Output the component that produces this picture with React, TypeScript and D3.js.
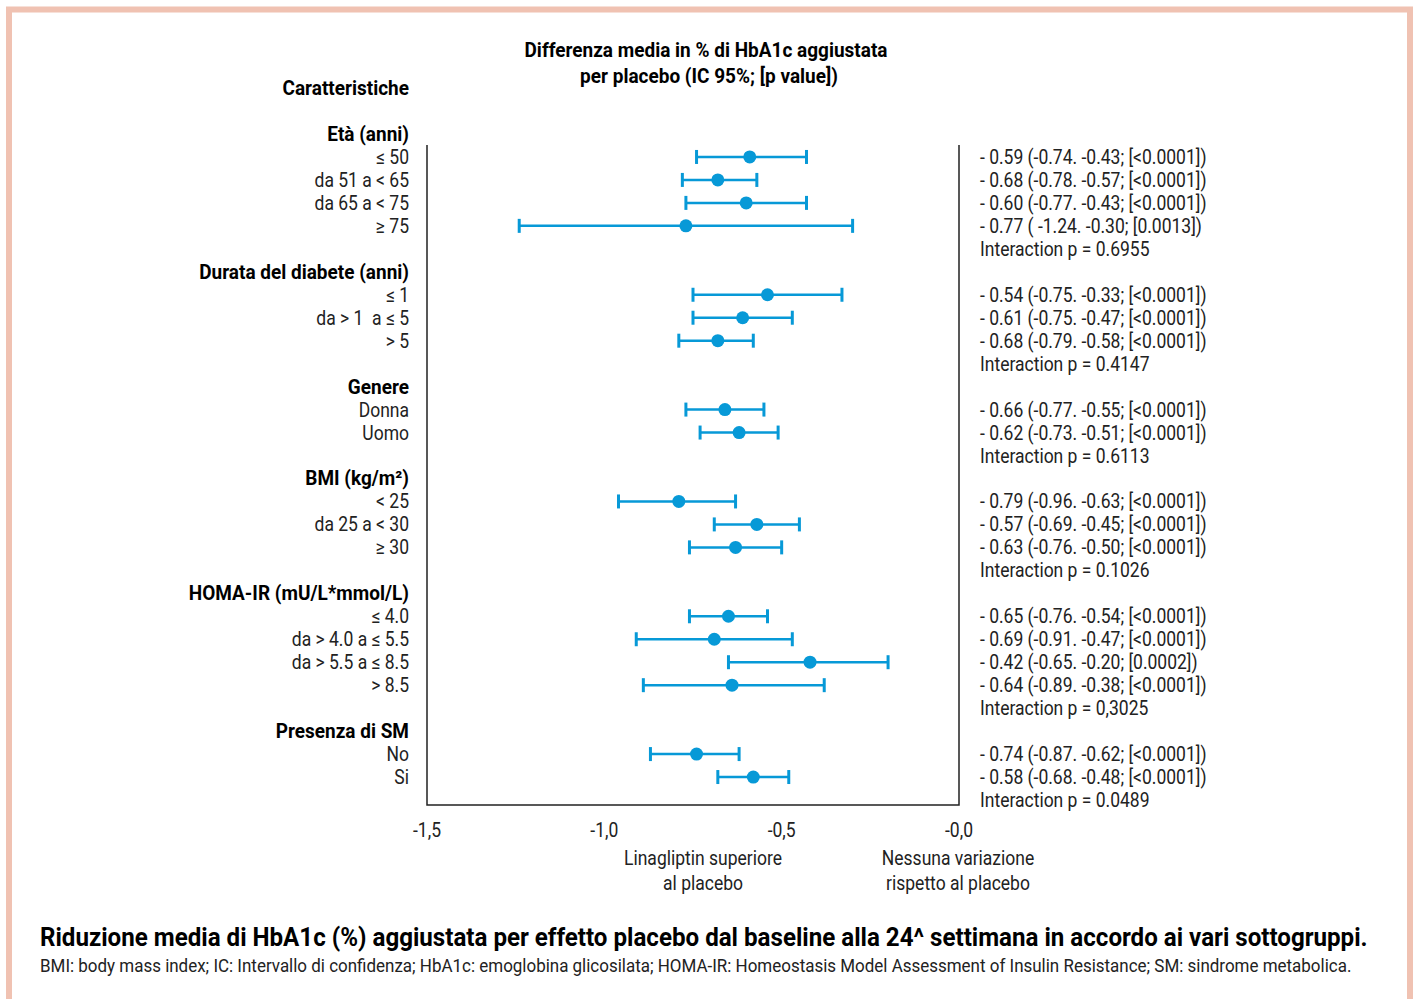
import React, { useLayoutEffect, useRef } from 'react'
import * as d3 from 'd3'

// Gruppi e sottogruppi
const groupTitles = [
  'Età (anni)',
  'Durata del diabete (anni)',
  'Genere',
  'BMI (kg/m²)',
  'HOMA-IR (mU/L*mmol/L)',
  'Presenza di SM',
]
const subgroupLabels = [
  ['≤ 50', 'da 51 a < 65', 'da 65 a < 75', '≥ 75'],
  ['≤ 1', 'da > 1  a ≤ 5', '> 5'],
  ['Donna', 'Uomo'],
  ['< 25', 'da 25 a < 30', '≥ 30'],
  ['≤ 4.0', 'da > 4.0 a ≤ 5.5', 'da > 5.5 a ≤ 8.5', '> 8.5'],
  ['No', 'Si'],
]
const means = [
  [-0.59, -0.68, -0.6, -0.77],
  [-0.54, -0.61, -0.68],
  [-0.66, -0.62],
  [-0.79, -0.57, -0.63],
  [-0.65, -0.69, -0.42, -0.64],
  [-0.74, -0.58],
]
const lowers = [
  [-0.74, -0.78, -0.77, -1.24],
  [-0.75, -0.75, -0.79],
  [-0.77, -0.73],
  [-0.96, -0.69, -0.76],
  [-0.76, -0.91, -0.65, -0.89],
  [-0.87, -0.68],
]
const uppers = [
  [-0.43, -0.57, -0.43, -0.3],
  [-0.33, -0.47, -0.58],
  [-0.55, -0.51],
  [-0.63, -0.45, -0.5],
  [-0.54, -0.47, -0.2, -0.38],
  [-0.62, -0.48],
]
const pValues = [
  ['<0.0001', '<0.0001', '<0.0001', '0.0013'],
  ['<0.0001', '<0.0001', '<0.0001'],
  ['<0.0001', '<0.0001'],
  ['<0.0001', '<0.0001', '<0.0001'],
  ['<0.0001', '<0.0001', '0.0002', '<0.0001'],
  ['<0.0001', '<0.0001'],
]
const interactionP = ['0.6955', '0.4147', '0.6113', '0.1026', '0,3025', '0.0489']
const xTicks = [-1.5, -1.0, -0.5, -0.0]
const xTickLabels = ['-1,5', '-1,0', '-0,5', '-0,0']

const caption =
  'Riduzione media di HbA1c (%) aggiustata per effetto placebo dal baseline alla 24^ settimana in accordo ai vari sottogruppi.'
const footnote =
  'BMI: body mass index; IC: Intervallo di confidenza; HbA1c: emoglobina glicosilata; HOMA-IR: Homeostasis Model Assessment of Insulin Resistance; SM: sindrome metabolica.'

const FONT = "'Liberation Sans Narrow', 'Roboto', sans-serif"
const BLUE = '#0799d7'
const INK = '#222'
// Roboto e' piu' largo del font condensato originale: stringo in orizzontale
const NARROW = 0.875
const NARROW_BOLD = 0.95

const fmt = (v: number) => {
  const s = Math.abs(v).toFixed(2)
  return v <= -1 ? ' -' + s : '-' + s
}

type Row = { kind: 'head' | 'item' | 'inter'; g: number; i: number }

const rows: Row[] = []
groupTitles.forEach((_, g) => {
  rows.push({ kind: 'head', g, i: -1 })
  subgroupLabels[g].forEach((_, i) => rows.push({ kind: 'item', g, i }))
  rows.push({ kind: 'inter', g, i: -1 })
})

const T = ({
  x,
  y,
  anchor = 'start',
  bold = false,
  size = 20,
  children,
}: {
  x: number
  y: number
  anchor?: string
  bold?: boolean
  size?: number
  children: React.ReactNode
}) => (
  <text
    transform={`translate(${x},${y}) scale(${bold ? NARROW_BOLD : NARROW},1)`}
    textAnchor={anchor}
    fontWeight={bold ? 'bold' : 'normal'}
    fontSize={size}
    fill={bold ? '#000' : INK}
    style={{ whiteSpace: 'pre' }}
  >
    {children}
  </text>
)

// testo che viene stretto fino a una larghezza data
const FitText = ({
  x,
  y,
  target,
  bold = false,
  size,
  children,
}: {
  x: number
  y: number
  target: number
  bold?: boolean
  size: number
  children: string
}) => {
  const ref = useRef<SVGTextElement>(null)
  useLayoutEffect(() => {
    const el = ref.current
    if (!el) return
    const w = el.getComputedTextLength()
    const s = w > 0 ? target / w : 1
    el.setAttribute('transform', `translate(${x},${y}) scale(${s},1)`)
  }, [x, y, target])
  return (
    <text
      ref={ref}
      transform={`translate(${x},${y}) scale(0.9,1)`}
      fontWeight={bold ? 'bold' : 'normal'}
      fontSize={size}
      fill={bold ? '#000' : INK}
    >
      {children}
    </text>
  )
}

export default function App() {
  const width = 1415
  const height = 999
  const x = d3.scaleLinear().domain([-1.5, 0]).range([427, 959])
  const y = d3
    .scalePoint<number>()
    .domain(rows.map((_, k) => k))
    .range([134, 800])
  const plotTop = 145
  const plotBottom = 805
  const labelX = 409
  const textX = 980

  return (
    <svg
      width={width}
      height={height}
      style={{ position: 'absolute', left: 0, top: 0, background: '#fff' }}
      fontFamily={FONT}
    >
      {/* cornice */}
      <rect x={0} y={0} width={width} height={height} fill="#fff" />
      <path
        d={`M9,${height} V9.5 H1410 V${height}`}
        fill="none"
        stroke="#f0c2b2"
        strokeWidth={6}
      />

      {/* titoli */}
      <T x={706} y={57} anchor="middle" bold>
        Differenza media in % di HbA1c aggiustata
      </T>
      <T x={709} y={83} anchor="middle" bold>
        per placebo (IC 95%; [p value])
      </T>
      <T x={labelX} y={95} anchor="end" bold>
        Caratteristiche
      </T>

      {/* assi */}
      <path
        d={`M${x(-1.5)},${plotTop} V${plotBottom} H${x(0)} V${plotTop}`}
        fill="none"
        stroke={INK}
        strokeWidth={1.5}
      />
      {xTicks.map((t, k) => (
        <T key={k} x={x(t)} y={837} anchor="middle">
          {xTickLabels[k]}
        </T>
      ))}
      <T x={703} y={865} anchor="middle">
        Linagliptin superiore
      </T>
      <T x={703} y={890} anchor="middle">
        al placebo
      </T>
      <T x={958} y={865} anchor="middle">
        Nessuna variazione
      </T>
      <T x={958} y={890} anchor="middle">
        rispetto al placebo
      </T>

      {/* righe */}
      {rows.map((r, k) => {
        const cy = y(k) as number
        if (r.kind === 'head') {
          return (
            <T key={k} x={labelX} y={cy + 7} anchor="end" bold>
              {groupTitles[r.g]}
            </T>
          )
        }
        if (r.kind === 'inter') {
          return (
            <T key={k} x={textX} y={cy + 7}>
              {`Interaction p = ${interactionP[r.g]}`}
            </T>
          )
        }
        const m = means[r.g][r.i]
        const lo = lowers[r.g][r.i]
        const hi = uppers[r.g][r.i]
        return (
          <g key={k}>
            <T x={labelX} y={cy + 7} anchor="end">
              {subgroupLabels[r.g][r.i]}
            </T>
            <line x1={x(lo)} x2={x(hi)} y1={cy} y2={cy} stroke={BLUE} strokeWidth={2.5} />
            <line x1={x(lo)} x2={x(lo)} y1={cy - 7} y2={cy + 7} stroke={BLUE} strokeWidth={3} />
            <line x1={x(hi)} x2={x(hi)} y1={cy - 7} y2={cy + 7} stroke={BLUE} strokeWidth={3} />
            <circle cx={x(m)} cy={cy} r={6.5} fill={BLUE} />
            <T x={textX} y={cy + 7}>
              {`- ${Math.abs(m).toFixed(2)} (${fmt(lo)}. ${fmt(hi)}; [${pValues[r.g][r.i]}])`}
            </T>
          </g>
        )
      })}

      {/* didascalia */}
      <FitText x={40} y={946} target={1327} size={25} bold>
        {caption}
      </FitText>
      <FitText x={40} y={972} target={1311} size={18}>
        {footnote}
      </FitText>
    </svg>
  )
}
